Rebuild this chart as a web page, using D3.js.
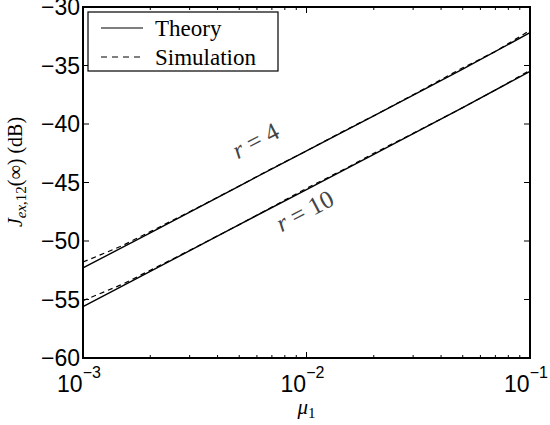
<!DOCTYPE html>
<html lang="en">
<head>
  <meta charset="UTF-8" />
  <title>J_ex,12 vs mu1</title>
  <script src="https://d3js.org/d3.v7.min.js"></script>
  <style>
    body { margin: 0; background: #fff; }
    svg { display: block; }
  </style>
</head>
<body>
<div id="chart"></div>
<script>
  // data
  const mu = [0.001, 0.002, 0.005, 0.01, 0.02, 0.05, 0.1];
  const theoryR4 = [-52.3, -49.3, -45.3, -42.3, -39.3, -35.3, -32.2];
  const theoryR10 = [-55.6, -52.6, -48.6, -45.6, -42.6, -38.6, -35.5];

  const simMu = [0.001, 0.0015, 0.002, 0.003, 0.005, 0.007, 0.01, 0.015, 0.02, 0.03, 0.05, 0.07, 0.1];
  const simR4 = [-51.8, -50.4, -49.2, -47.5, -45.3, -43.8, -42.3, -40.5, -39.3, -37.5, -35.2, -33.8, -32.0];
  const simR10 = [-55.1, -53.7, -52.5, -50.8, -48.6, -47.1, -45.5, -43.8, -42.5, -40.8, -38.6, -37.1, -35.4];

  const yTicks = [-60, -55, -50, -45, -40, -35, -30];
  const xMajor = [0.001, 0.01, 0.1];
  const legendItems = ["Theory", "Simulation"];

  const width = 550, height = 425;
  const margin = { top: 7, right: 20, bottom: 67, left: 83 };

  const svg = d3.select("#chart").append("svg")
    .attr("width", width)
    .attr("height", height);

  const x = d3.scaleLog().domain([0.001, 0.1]).range([margin.left, width - margin.right]);
  const y = d3.scaleLinear().domain([-60, -30]).range([height - margin.bottom, margin.top]);

  const x0 = x.range()[0], x1 = x.range()[1];
  const y0 = y.range()[0], y1 = y.range()[1];

  // minor ticks on log axis
  const xMinor = [];
  for (const dec of [0.001, 0.01]) {
    for (let k = 2; k <= 9; k++) xMinor.push(dec * k);
  }

  const ticks = svg.append("g").attr("stroke", "#000").attr("stroke-width", 1);
  xMajor.forEach(v => {
    ticks.append("line").attr("x1", x(v)).attr("x2", x(v)).attr("y1", y0).attr("y2", y0 - 6);
    ticks.append("line").attr("x1", x(v)).attr("x2", x(v)).attr("y1", y1).attr("y2", y1 + 6);
  });
  xMinor.forEach(v => {
    ticks.append("line").attr("x1", x(v)).attr("x2", x(v)).attr("y1", y0).attr("y2", y0 - 3);
    ticks.append("line").attr("x1", x(v)).attr("x2", x(v)).attr("y1", y1).attr("y2", y1 + 3);
  });
  yTicks.forEach(v => {
    ticks.append("line").attr("x1", x0).attr("x2", x0 + 6).attr("y1", y(v)).attr("y2", y(v));
    ticks.append("line").attr("x1", x1).attr("x2", x1 - 6).attr("y1", y(v)).attr("y2", y(v));
  });

  // y tick labels
  svg.append("g")
    .style("font", "23px 'Liberation Sans', Arial, sans-serif")
    .selectAll("text")
    .data(yTicks)
    .join("text")
    .attr("x", x0 - 3)
    .attr("y", d => y(d))
    .attr("dy", "0.36em")
    .attr("text-anchor", "end")
    .text(d => "\u2212" + Math.abs(d));

  // x tick labels 10^n
  const xl = svg.append("g").style("font", "23px 'Liberation Sans', Arial, sans-serif");
  xMajor.forEach(v => {
    const t = xl.append("text")
      .attr("x", x(v) - 4)
      .attr("y", y0 + 34)
      .attr("text-anchor", "middle");
    t.append("tspan").text("10");
    t.append("tspan").attr("dy", -14).style("font-size", "16px").text("\u2212" + Math.round(-Math.log10(v)));
  });

  // lines
  const line = d3.line().x(d => x(d[0])).y(d => y(d[1]));
  const plot = svg.append("g").attr("fill", "none").attr("stroke", "#000");
  [simR4, simR10].forEach(s => {
    plot.append("path")
      .attr("d", line(simMu.map((m, i) => [m, s[i]])))
      .attr("stroke-width", 1.2)
      .attr("stroke-dasharray", "5,4");
  });
  [theoryR4, theoryR10].forEach(s => {
    plot.append("path")
      .attr("d", line(mu.map((m, i) => [m, s[i]])))
      .attr("stroke-width", 1.4);
  });

  // frame
  svg.append("rect")
    .attr("x", x0).attr("y", y1)
    .attr("width", x1 - x0).attr("height", y0 - y1)
    .attr("fill", "none").attr("stroke", "#000").attr("stroke-width", 2);

  // curve labels
  const ang = Math.atan2(y(-42.3) - y(-52.3), x(0.01) - x(0.001)) * 180 / Math.PI;
  const curveLabels = [
    { txt: "4", mx: 0.0059, v: -41.4 },
    { txt: "10", mx: 0.0098, v: -47.4 }
  ];
  curveLabels.forEach(c => {
    const t = svg.append("text")
      .attr("transform", `translate(${x(c.mx)},${y(c.v)}) rotate(${ang})`)
      .attr("text-anchor", "middle")
      .attr("dy", "0.35em")
      .attr("fill", "#444")
      .style("font", "25px 'Liberation Serif', 'DejaVu Serif', serif");
    t.append("tspan").style("font-style", "italic").text("r");
    t.append("tspan").text(" = " + c.txt);
  });

  // legend
  const lg = svg.append("g");
  lg.append("rect")
    .attr("x", 88).attr("y", 12).attr("width", 190).attr("height", 59)
    .attr("fill", "#fff").attr("stroke", "#000").attr("stroke-width", 1.2);
  legendItems.forEach((name, i) => {
    const ly = 28 + i * 29;
    lg.append("line")
      .attr("x1", 101).attr("x2", 143).attr("y1", ly).attr("y2", ly)
      .attr("stroke", "#000").attr("stroke-width", 1.2)
      .attr("stroke-dasharray", i === 1 ? "6,5" : null);
    lg.append("text")
      .attr("x", 155).attr("y", ly)
      .attr("dy", "0.35em")
      .style("font", "23px 'Liberation Serif', 'Times New Roman', serif")
      .text(name);
  });

  // axis titles
  const xt = svg.append("text")
    .attr("x", (x0 + x1) / 2).attr("y", 414)
    .attr("text-anchor", "middle")
    .style("font", "21px 'Liberation Serif', serif");
  xt.append("tspan").style("font-style", "italic").text("\u03bc");
  xt.append("tspan").attr("dy", 4).style("font-size", "15px").text("1");

  const yt = svg.append("text")
    .attr("transform", `translate(22,172) rotate(-90)`)
    .attr("text-anchor", "middle")
    .style("font", "20px 'Liberation Serif', serif");
  yt.append("tspan").style("font-style", "italic").text("J");
  yt.append("tspan").attr("dy", 4).style("font-size", "15px").style("font-style", "italic").text("ex");
  yt.append("tspan").style("font-size", "15px").text(",12");
  yt.append("tspan").attr("dy", -4).text("(\u221e) (dB)");
</script>
</body>
</html>
